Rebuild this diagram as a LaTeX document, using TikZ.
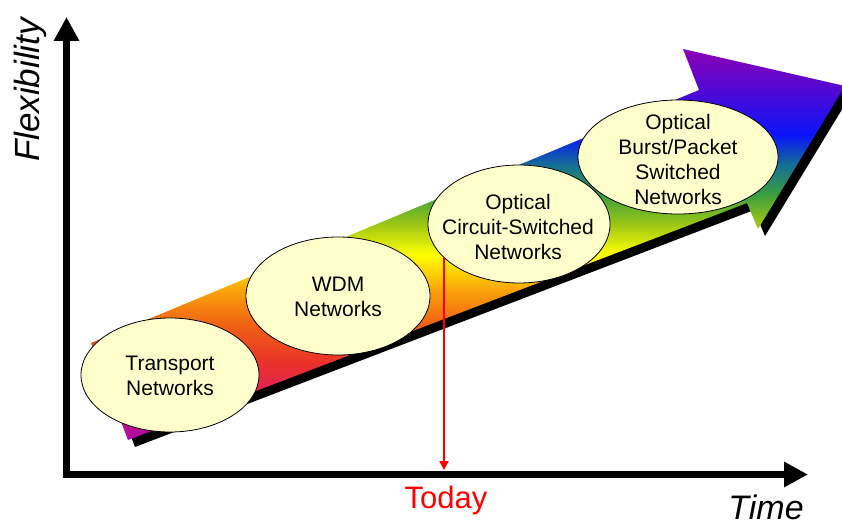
\documentclass[tikz,border=0pt]{standalone}
\usepackage{fontspec}
\setmainfont{Liberation Sans}
\usetikzlibrary{arrows.meta,positioning}

\definecolor{bubble}{RGB}{255,255,204}
\definecolor{rbA}{RGB}{170,10,170}
\definecolor{rbB}{RGB}{220,30,100}
\definecolor{rbC}{RGB}{235,50,40}
\definecolor{rbD}{RGB}{240,100,20}
\definecolor{rbE}{RGB}{250,160,10}
\definecolor{rbF}{RGB}{255,255,0}
\definecolor{rbG}{RGB}{160,200,20}
\definecolor{rbH}{RGB}{60,160,60}
\definecolor{rbI}{RGB}{20,110,150}
\definecolor{rbJ}{RGB}{10,20,250}
\definecolor{rbK}{RGB}{70,10,220}
\definecolor{rbL}{RGB}{140,0,180}
\pgfdeclareverticalshading{rainbow}{100bp}{color(0bp)=(rbA); color(25bp)=(rbA);
  color(30bp)=(rbB); color(35bp)=(rbC); color(40bp)=(rbD); color(44bp)=(rbE);
  color(48.7bp)=(rbF); color(52.5bp)=(rbG); color(56.3bp)=(rbH); color(60.2bp)=(rbI);
  color(64bp)=(rbJ); color(68.8bp)=(rbK); color(75bp)=(rbL); color(100bp)=(rbL)}

\tikzset{
  axis/.style={line width=7pt,line cap=rect,-{Triangle[length=24pt,width=24pt]}},
  bubbleline/.style={draw=black,fill=bubble,line width=0.8pt},
  bubbletext/.style={align=center,font=\fontsize{21}{25}\selectfont},
  axislabel/.style={font=\fontsize{35}{40}\selectfont\itshape},
}

\begin{document}
\begin{tikzpicture}[x=1pt,y=-1pt,line join=round]
  \useasboundingbox (0,0) rectangle (842,527);
  \clip (0,0) rectangle (842,527);
  \coordinate (origin) at (66.5,474.5);
  \coordinate (ytop) at (66.5,17);
  \coordinate (xend) at (808,474.5);
  \coordinate (todaytop) at (444,257);
  \coordinate (todaytip) at (444,470);

  \fill[black,shift={(7,7)}] (91,343) -- (699,90) -- (683,49) -- (845,86)
    -- (758,229) -- (747,203) -- (128,440) -- cycle;
  \shade[shading=rainbow] (91,343) -- (699,90) -- (683,49) -- (845,86)
    -- (758,229) -- (747,203) -- (128,440) -- cycle;

  \draw[bubbleline] (170,375) ellipse [x radius=89,y radius=57];
  \draw[bubbleline] (338,296) ellipse [x radius=92,y radius=59];
  \draw[bubbleline] (519,224) ellipse [x radius=91,y radius=59];
  \draw[bubbleline] (678,157) ellipse [x radius=100,y radius=57];
  \node[bubbletext] (transport) at (170,376) {Transport\\Networks};
  \node[bubbletext] (wdm) at (338,297) {WDM\\Networks};
  \node[bubbletext] (circuit) at (518,227) {Optical\\Circuit-Switched\\Networks};
  \node[bubbletext] (burst) at (678,159) {Optical\\Burst/Packet\\Switched\\Networks};

  \draw[red,line width=2pt,-{Triangle[length=9pt,width=9pt]}] (todaytop) -- (todaytip);

  \draw[axis] (origin) -- (ytop);
  \draw[axis] (origin) -- (xend);

  \node[axislabel,rotate=90] (flex) at (30,90) {Flexibility};
  \node[axislabel,font=\fontsize{34}{40}\selectfont\itshape] (time) at (766,507) {Time};
  \node[red,font=\fontsize{31}{36}\selectfont] (today) at (446,500) {Today};
\end{tikzpicture}
\end{document}
